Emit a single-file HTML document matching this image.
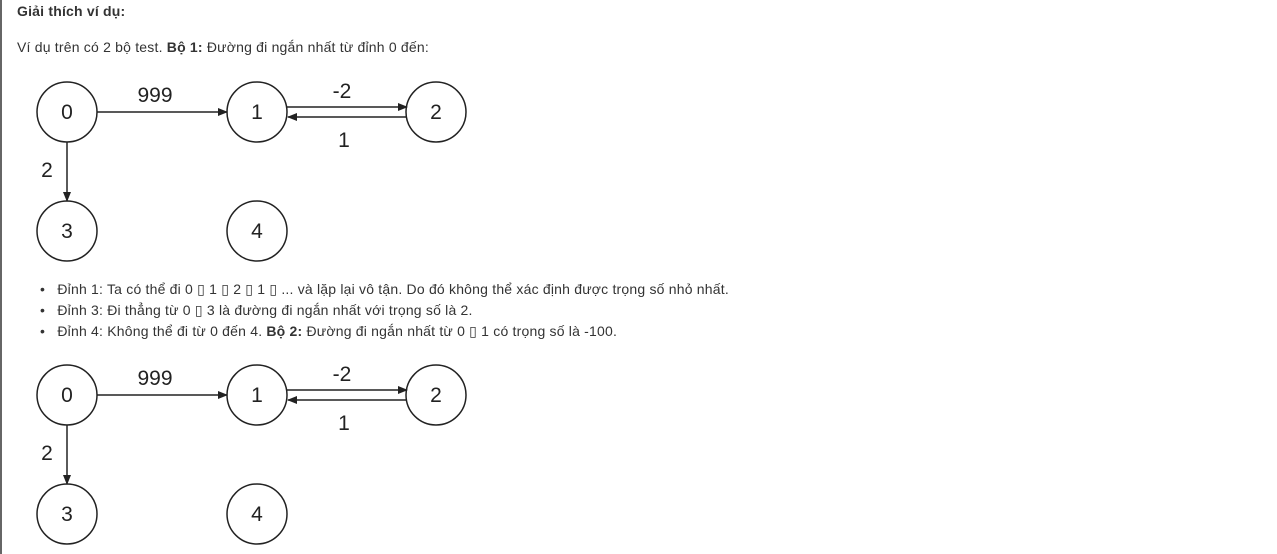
<!DOCTYPE html>
<html><head><meta charset="utf-8"><style>
body{margin:0;width:1277px;height:554px;background:#fff;font-family:"Liberation Sans","DejaVu Sans",sans-serif;color:#333;position:relative;overflow:hidden}
.t{position:absolute;font-size:14px;white-space:nowrap;letter-spacing:0.2px}
.bar{position:absolute;left:0;top:0;width:2px;height:554px;background:#666}
svg text{font-family:"Liberation Sans",sans-serif;font-size:21px;fill:#222}
</style></head><body>
<div class="bar"></div>
<div class="t" style="left:17px;top:3px;font-weight:bold">Giải thích ví dụ:</div>
<div class="t" style="left:17px;top:39px">Ví dụ trên có 2 bộ test. <b>Bộ 1:</b> Đường đi ngắn nhất từ đỉnh 0 đến:</div>
<svg width="1277" height="554" style="position:absolute;left:0;top:0">
<defs><marker id="a" markerWidth="10" markerHeight="8" refX="9" refY="4" orient="auto" markerUnits="userSpaceOnUse"><path d="M0,0L10,4L0,8z" fill="#222"/></marker></defs>
<g id="g1">
<line x1="97" y1="112" x2="227" y2="112" stroke="#222" stroke-width="1.5" marker-end="url(#a)"/>
<line x1="287" y1="107" x2="407" y2="107" stroke="#222" stroke-width="1.5" marker-end="url(#a)"/>
<line x1="407" y1="117" x2="288" y2="117" stroke="#222" stroke-width="1.5" marker-end="url(#a)"/>
<line x1="67" y1="142" x2="67" y2="201" stroke="#222" stroke-width="1.5" marker-end="url(#a)"/>
<circle cx="67" cy="112" r="30" fill="none" stroke="#222" stroke-width="1.5"/>
<circle cx="257" cy="112" r="30" fill="none" stroke="#222" stroke-width="1.5"/>
<circle cx="436" cy="112" r="30" fill="none" stroke="#222" stroke-width="1.5"/>
<circle cx="67" cy="231" r="30" fill="none" stroke="#222" stroke-width="1.5"/>
<circle cx="257" cy="231" r="30" fill="none" stroke="#222" stroke-width="1.5"/>
<text x="67" y="119" text-anchor="middle">0</text>
<text x="257" y="119" text-anchor="middle">1</text>
<text x="436" y="119" text-anchor="middle">2</text>
<text x="67" y="238" text-anchor="middle">3</text>
<text x="257" y="238" text-anchor="middle">4</text>
<text x="155" y="102" text-anchor="middle">999</text>
<text x="342" y="98" text-anchor="middle">-2</text>
<text x="344" y="147" text-anchor="middle">1</text>
<text x="47" y="177" text-anchor="middle">2</text>
</g>
<g transform="translate(0,283)">
<line x1="97" y1="112" x2="227" y2="112" stroke="#222" stroke-width="1.5" marker-end="url(#a)"/>
<line x1="287" y1="107" x2="407" y2="107" stroke="#222" stroke-width="1.5" marker-end="url(#a)"/>
<line x1="407" y1="117" x2="288" y2="117" stroke="#222" stroke-width="1.5" marker-end="url(#a)"/>
<line x1="67" y1="142" x2="67" y2="201" stroke="#222" stroke-width="1.5" marker-end="url(#a)"/>
<circle cx="67" cy="112" r="30" fill="none" stroke="#222" stroke-width="1.5"/>
<circle cx="257" cy="112" r="30" fill="none" stroke="#222" stroke-width="1.5"/>
<circle cx="436" cy="112" r="30" fill="none" stroke="#222" stroke-width="1.5"/>
<circle cx="67" cy="231" r="30" fill="none" stroke="#222" stroke-width="1.5"/>
<circle cx="257" cy="231" r="30" fill="none" stroke="#222" stroke-width="1.5"/>
<text x="67" y="119" text-anchor="middle">0</text>
<text x="257" y="119" text-anchor="middle">1</text>
<text x="436" y="119" text-anchor="middle">2</text>
<text x="67" y="238" text-anchor="middle">3</text>
<text x="257" y="238" text-anchor="middle">4</text>
<text x="155" y="102" text-anchor="middle">999</text>
<text x="342" y="98" text-anchor="middle">-2</text>
<text x="344" y="147" text-anchor="middle">1</text>
<text x="47" y="177" text-anchor="middle">2</text>
</g>
</svg>
<div class="t" style="left:40px;top:281px">•&nbsp;&nbsp; Đỉnh 1: Ta có thể đi 0 ▯ 1 ▯ 2 ▯ 1 ▯ ... và lặp lại vô tận. Do đó không thể xác định được trọng số nhỏ nhất.</div>
<div class="t" style="left:40px;top:302px">•&nbsp;&nbsp; Đỉnh 3: Đi thẳng từ 0 ▯ 3 là đường đi ngắn nhất với trọng số là 2.</div>
<div class="t" style="left:40px;top:323px">•&nbsp;&nbsp; Đỉnh 4: Không thể đi từ 0 đến 4. <b>Bộ 2:</b> Đường đi ngắn nhất từ 0 ▯ 1 có trọng số là -100.</div>
</body></html>
